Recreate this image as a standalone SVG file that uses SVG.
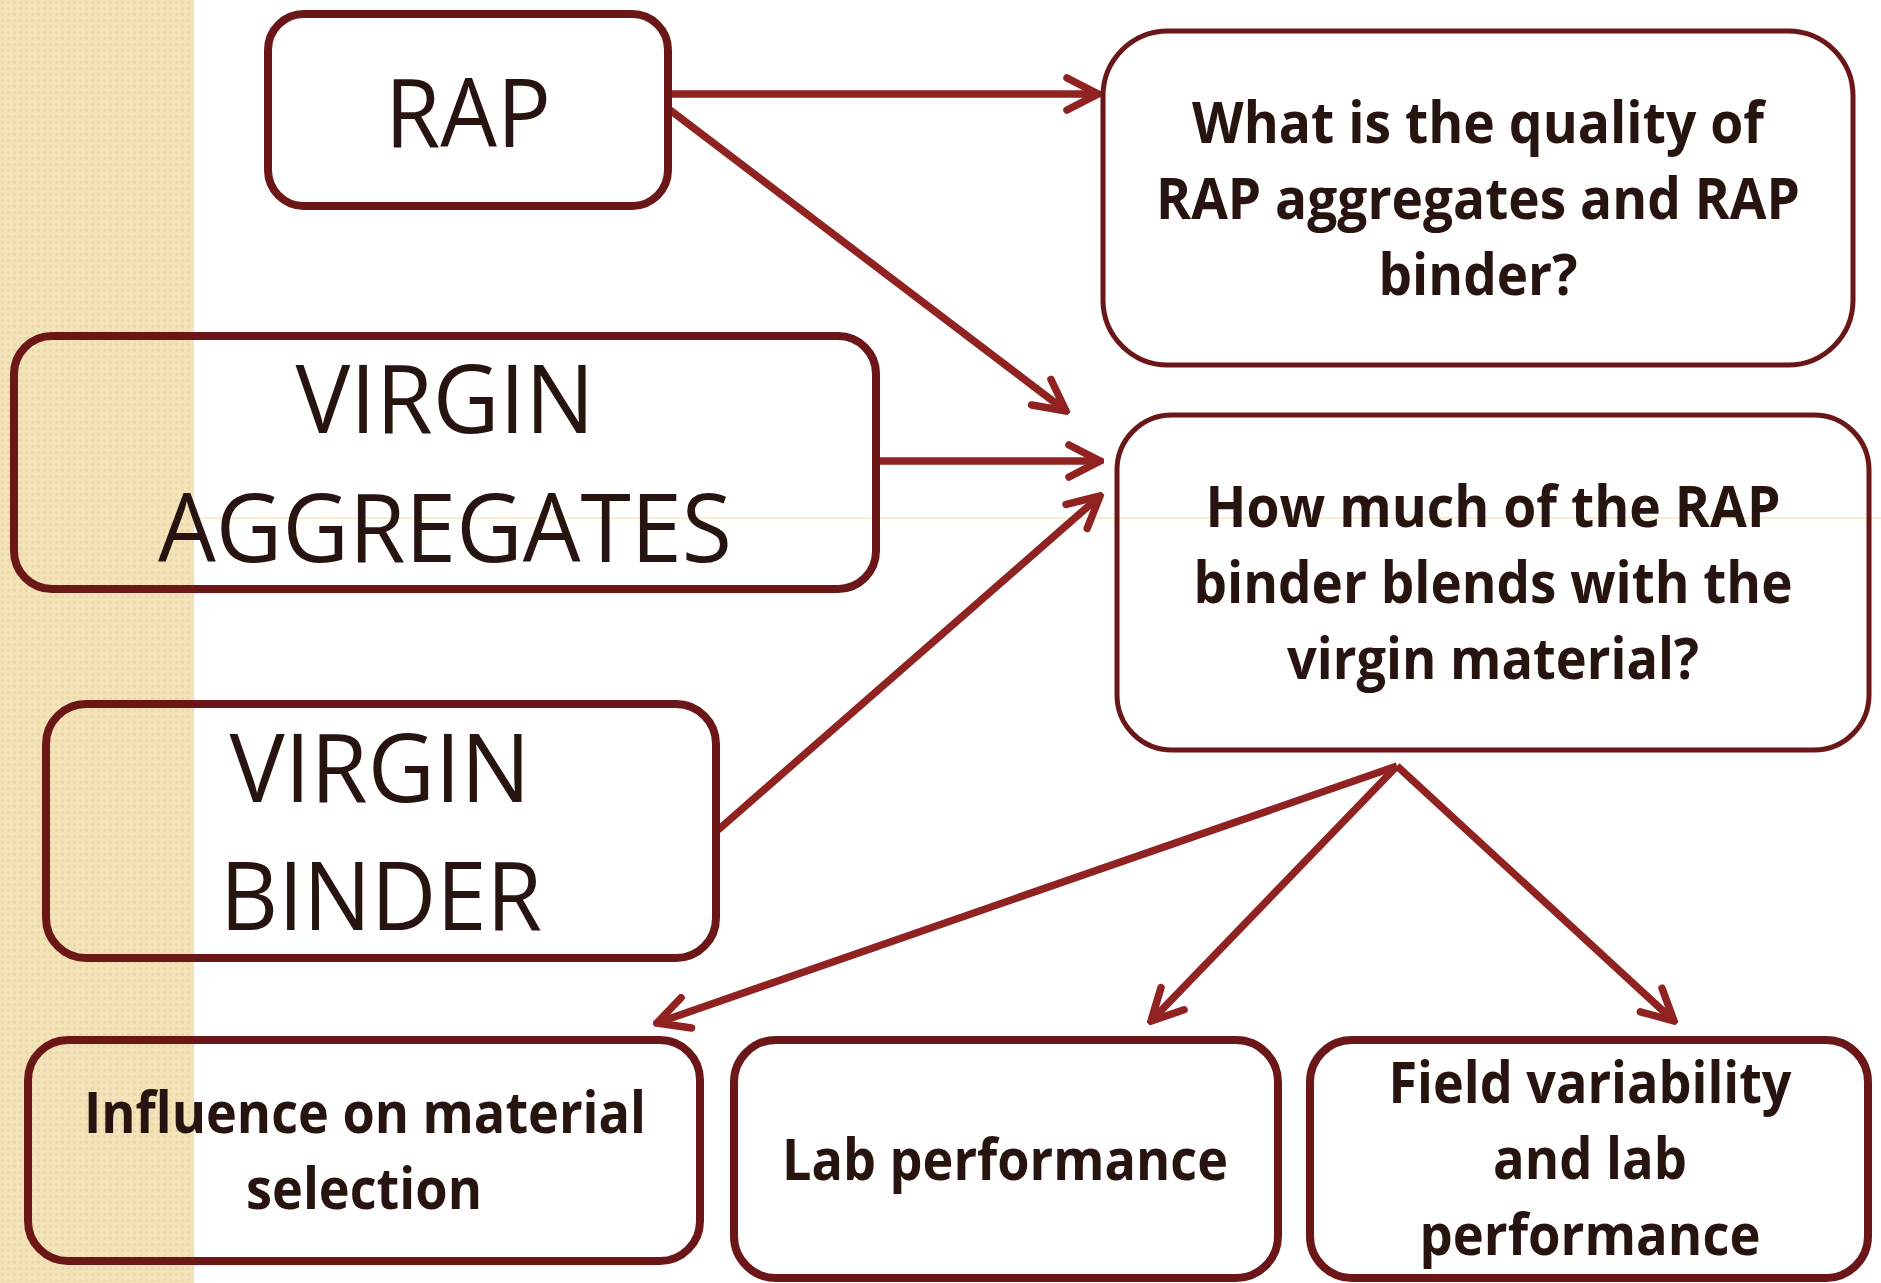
<svg xmlns="http://www.w3.org/2000/svg" width="1881" height="1283" viewBox="0 0 1881 1283">
  <defs>
    <pattern id="chk" width="6" height="6" patternUnits="userSpaceOnUse">
      <rect width="6" height="6" fill="#F4E3B8"/>
      <rect x="1" y="1" width="3" height="3" fill="#EDD9A5"/>
    </pattern>
    <marker id="arr" viewBox="0 0 40 40" refX="36" refY="20" markerWidth="40" markerHeight="40" markerUnits="userSpaceOnUse" orient="auto">
      <path d="M5,4 L36,20 L5,36" fill="none" stroke="#912222" stroke-width="7.5" stroke-linecap="round" stroke-linejoin="miter"/>
    </marker>
    <style>
      .box { fill: none; stroke: #6B1718; stroke-width: 8; }
      .qbox { fill: none; stroke: #6B1718; stroke-width: 5; }
      .big { font-family: "Open Sans", "Noto Sans", sans-serif; font-size: 95px; fill: #271410; text-anchor: middle; }
      .bold { font-family: "Open Sans", "Noto Sans", sans-serif; font-weight: 700; font-size: 57px; fill: #271410; text-anchor: middle; }
      .conn { fill: none; stroke: #912222; stroke-width: 7.5; marker-end: url(#arr); }
    </style>
  </defs>

  <rect x="0" y="0" width="1881" height="1283" fill="#FFFFFF"/>
  <rect x="0" y="0" width="194" height="1283" fill="url(#chk)"/>
  <line x1="194" y1="518" x2="1881" y2="518" stroke="#F3DCA2" stroke-width="1.2"/>

  <g id="connectors">
    <line class="conn" x1="670" y1="94" x2="1098" y2="94"/>
    <line class="conn" x1="670" y1="110" x2="1066" y2="411"/>
    <line class="conn" x1="878" y1="461" x2="1100" y2="461"/>
    <line class="conn" x1="718" y1="830" x2="1100" y2="496"/>
    <line class="conn" x1="1397" y1="766" x2="657" y2="1023"/>
    <line class="conn" x1="1397" y1="766" x2="1151" y2="1021"/>
    <line class="conn" x1="1397" y1="766" x2="1674" y2="1021"/>
  </g>

  <g id="rap">
    <rect class="box" x="268" y="14" width="400" height="192" rx="36"/>
    <text class="big" x="468" y="147" textLength="166" lengthAdjust="spacingAndGlyphs">RAP</text>
  </g>

  <g id="virgin-aggregates">
    <rect class="box" x="14" y="336" width="862" height="253" rx="38"/>
    <text class="big" x="445" y="433" textLength="299" lengthAdjust="spacingAndGlyphs">VIRGIN</text>
    <text class="big" x="445" y="562" textLength="574" lengthAdjust="spacingAndGlyphs">AGGREGATES</text>
  </g>

  <g id="virgin-binder">
    <rect class="box" x="46" y="704" width="670" height="254" rx="40"/>
    <text class="big" x="380" y="802" textLength="301" lengthAdjust="spacingAndGlyphs">VIRGIN</text>
    <text class="big" x="381" y="930" textLength="322" lengthAdjust="spacingAndGlyphs">BINDER</text>
  </g>

  <g id="q-quality">
    <rect class="qbox" x="1103" y="31" width="750" height="334" rx="65"/>
    <text class="bold" x="1478" y="143" textLength="572" lengthAdjust="spacingAndGlyphs">What is the quality of</text>
    <text class="bold" x="1478" y="219" textLength="644" lengthAdjust="spacingAndGlyphs">RAP aggregates and RAP</text>
    <text class="bold" x="1478" y="295" textLength="199" lengthAdjust="spacingAndGlyphs">binder?</text>
  </g>

  <g id="q-blend">
    <rect class="qbox" x="1117" y="415" width="752" height="335" rx="55"/>
    <text class="bold" x="1493" y="527" textLength="575" lengthAdjust="spacingAndGlyphs">How much of the RAP</text>
    <text class="bold" x="1493" y="603" textLength="599" lengthAdjust="spacingAndGlyphs">binder blends with the</text>
    <text class="bold" x="1493" y="679" textLength="412" lengthAdjust="spacingAndGlyphs">virgin material?</text>
  </g>

  <g id="influence">
    <rect class="box" x="28" y="1040" width="672" height="221" rx="40"/>
    <text class="bold" x="365" y="1133" textLength="562" lengthAdjust="spacingAndGlyphs">Influence on material</text>
    <text class="bold" x="364" y="1209" textLength="236" lengthAdjust="spacingAndGlyphs">selection</text>
  </g>

  <g id="lab">
    <rect class="box" x="734" y="1040" width="544" height="238" rx="42"/>
    <text class="bold" x="1005" y="1180" textLength="446" lengthAdjust="spacingAndGlyphs">Lab performance</text>
  </g>

  <g id="field">
    <rect class="box" x="1310" y="1040" width="558" height="238" rx="42"/>
    <text class="bold" x="1590" y="1103" textLength="403" lengthAdjust="spacingAndGlyphs">Field variability</text>
    <text class="bold" x="1590" y="1179" textLength="194" lengthAdjust="spacingAndGlyphs">and lab</text>
    <text class="bold" x="1590" y="1255" textLength="341" lengthAdjust="spacingAndGlyphs">performance</text>
  </g>
</svg>
